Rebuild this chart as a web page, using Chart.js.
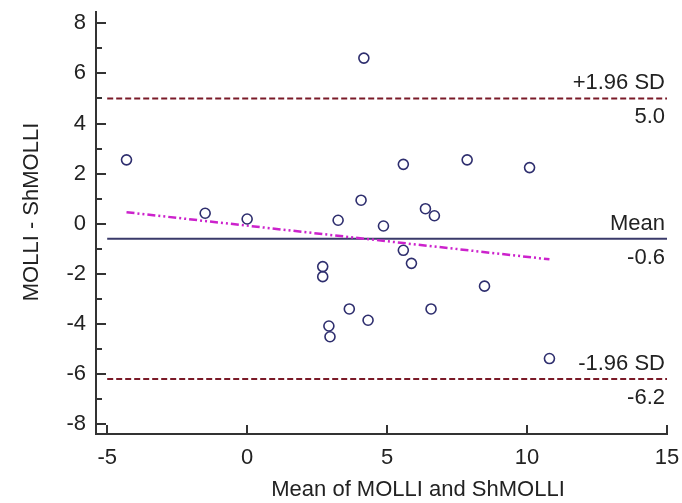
<!DOCTYPE html>
<html>
<head>
<meta charset="utf-8">
<script src="https://cdn.jsdelivr.net/npm/chart.js@4.4.1/dist/chart.umd.min.js"></script>
<style>
  html, body { margin: 0; padding: 0; background: #fff; }
  #wrap { width: 682px; height: 503px; }
</style>
</head>
<body>
<div id="wrap"><canvas id="myChart" width="682" height="503"></canvas></div>
<script>
// values
const meanValues = [-4.31, 4.17, -1.50, 0.00, 3.25, 4.07, 4.87, 2.70, 2.70, 3.65, 2.92, 2.96,
  4.32, 5.58, 5.58, 5.87, 6.37, 6.69, 6.57, 7.86, 8.48, 10.09, 10.80];
const diffValues = [2.55, 6.61, 0.42, 0.19, 0.14, 0.94, -0.09, -1.71, -2.11, -3.40, -4.08, -4.51,
  -3.85, 2.37, -1.06, -1.58, 0.60, 0.32, -3.40, 2.55, -2.49, 2.24, -5.38];

// regression of differences (end points)
const regX = [-4.31, 10.80];
const regY = [0.46, -1.42];

const meanDiff = -0.6;
const upperLimit = 5.0;
const lowerLimit = -6.2;
const lineX = [-5, 15];

const xTicks = [-5, 0, 5, 10, 15];
const yTicks = [-8, -6, -4, -2, 0, 2, 4, 6, 8];
const yMinorTicks = [-7, -5, -3, -1, 1, 3, 5, 7];

const FONT = "'Liberation Sans', Arial, sans-serif";
const TEXT_COLOR = '#222';

function flatLine(v) {
  return lineX.map(x => ({ x: x, y: v }));
}

//inward ticks, limit labels and axis titles
const extrasPlugin = {
  id: 'extras',
  afterDraw(chart) {
    const ctx = chart.ctx;
    const xs = chart.scales.x;
    const ys = chart.scales.y;
    const area = chart.chartArea;
    ctx.save();
    ctx.strokeStyle = '#333';
    ctx.lineWidth = 2;
    yTicks.forEach(v => {
      const py = Math.round(ys.getPixelForValue(v));
      ctx.beginPath();
      ctx.moveTo(area.left, py);
      ctx.lineTo(area.left + 10, py);
      ctx.stroke();
    });
    yMinorTicks.forEach(v => {
      const py = Math.round(ys.getPixelForValue(v));
      ctx.beginPath();
      ctx.moveTo(area.left, py);
      ctx.lineTo(area.left + 6, py);
      ctx.stroke();
    });
    xTicks.forEach(v => {
      const px = Math.round(xs.getPixelForValue(v));
      ctx.beginPath();
      ctx.moveTo(px, area.bottom);
      ctx.lineTo(px, area.bottom - 9);
      ctx.stroke();
    });

    // labels at the right end of the lines
    ctx.fillStyle = TEXT_COLOR;
    ctx.font = '22px ' + FONT;
    ctx.textAlign = 'right';
    ctx.textBaseline = 'alphabetic';
    const rx = xs.getPixelForValue(lineX[1]) - 2;
    const labels = [
      [upperLimit, '+1.96 SD', upperLimit.toFixed(1)],
      [meanDiff, 'Mean', meanDiff.toFixed(1)],
      [lowerLimit, '-1.96 SD', lowerLimit.toFixed(1)]
    ];
    labels.forEach(l => {
      const py = ys.getPixelForValue(l[0]);
      ctx.fillText(l[1], rx, py - 9);
      ctx.fillText(l[2], rx, py + 25);
    });

    // axis titles
    ctx.textAlign = 'center';
    ctx.fillText('Mean of MOLLI and ShMOLLI', 418, 496);
    ctx.translate(38, 212);
    ctx.rotate(-Math.PI / 2);
    ctx.fillText('MOLLI - ShMOLLI', 0, 0);
    ctx.restore();
  }
};

const ctx = document.getElementById('myChart').getContext('2d');
const myChart = new Chart(ctx, {
  type: 'scatter',
  data: {
    datasets: [
      {
        label: 'Differences',
        data: meanValues.map((v, i) => ({ x: v, y: diffValues[i] })),
        pointStyle: 'circle',
        pointRadius: 5,
        pointBorderWidth: 1.6,
        pointBorderColor: '#2e2e6e',
        pointBackgroundColor: 'rgba(255,255,255,0)',
        showLine: false
      },
      {
        label: 'Regression',
        data: regX.map((v, i) => ({ x: v, y: regY[i] })),
        showLine: true,
        borderColor: '#cc22cc',
        borderWidth: 2.5,
        borderDash: [8, 3, 2, 3, 2, 3],
        pointRadius: 0
      },
      {
        label: 'Mean',
        data: flatLine(meanDiff),
        showLine: true,
        borderColor: '#3a3a6a',
        borderWidth: 2,
        pointRadius: 0
      },
      {
        label: '+1.96 SD',
        data: flatLine(upperLimit),
        showLine: true,
        borderColor: '#7a1a28',
        borderWidth: 2,
        borderDash: [6, 3],
        pointRadius: 0
      },
      {
        label: '-1.96 SD',
        data: flatLine(lowerLimit),
        showLine: true,
        borderColor: '#7a1a28',
        borderWidth: 2,
        borderDash: [6, 3],
        pointRadius: 0
      }
    ]
  },
  options: {
    responsive: false,
    animation: false,
    devicePixelRatio: 1,
    layout: {
      padding: { top: 12, right: 15, left: 0, bottom: 0 }
    },
    plugins: {
      legend: { display: false },
      tooltip: { enabled: false }
    },
    scales: {
      x: {
        type: 'linear',
        min: -5.4,
        max: 15,
        afterBuildTicks: function (scale) {
          scale.ticks = xTicks.map(v => ({ value: v }));
        },
        afterFit: function (scale) {
          scale.height = 69;
          scale.paddingLeft = 0;
          scale.paddingRight = 0;
        },
        grid: { display: false, drawTicks: false },
        border: { display: true, color: '#333', width: 2 },
        ticks: {
          color: TEXT_COLOR,
          padding: 11,
          maxRotation: 0,
          font: { family: FONT, size: 22 }
        }
      },
      y: {
        type: 'linear',
        min: -8.39,
        max: 8.45,
        afterBuildTicks: function (scale) {
          scale.ticks = yTicks.map(v => ({ value: v }));
        },
        afterFit: function (scale) {
          scale.width = 96;
          scale.paddingTop = 0;
          scale.paddingBottom = 0;
        },
        grid: { display: false, drawTicks: false },
        border: { display: true, color: '#333', width: 2 },
        ticks: {
          color: TEXT_COLOR,
          padding: 10,
          font: { family: FONT, size: 22 }
        }
      }
    }
  },
  plugins: [extrasPlugin]
});
</script>
</body>
</html>
